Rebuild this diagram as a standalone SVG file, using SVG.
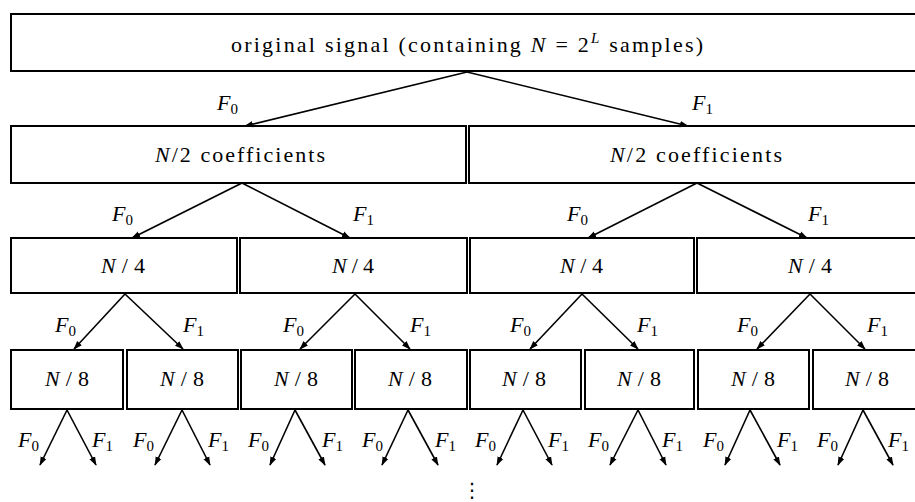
<svg xmlns="http://www.w3.org/2000/svg" width="915" height="502" viewBox="0 0 915 502">
<defs>
<marker id="ah" viewBox="0 0 10 10" refX="9" refY="5" markerWidth="9" markerHeight="9" markerUnits="userSpaceOnUse" orient="auto">
<path d="M0,1.5 L10,5 L0,8.5 z" fill="#000"/>
</marker>
</defs>
<rect width="915" height="502" fill="#fff"/>

<g font-size="22" fill="#000">
<g id="n0"><rect fill="#fff" stroke="#000" stroke-width="2" x="11" y="14" width="912" height="57"/>
<text font-family="Liberation Serif" x="231" y="52" textLength="472" lengthAdjust="spacing">original signal (containing <tspan font-style="italic">N</tspan> = 2<tspan font-style="italic" font-size="15" dy="-9">L</tspan><tspan dy="9"> samples)</tspan></text></g>

<g id="n1"><rect fill="#fff" stroke="#000" stroke-width="2" x="11" y="126" width="455" height="57"/><text font-family="Liberation Serif" x="155" y="162" textLength="170" lengthAdjust="spacing"><tspan font-style="italic">N</tspan>/2 coefficients</text></g>
<g id="n2"><rect fill="#fff" stroke="#000" stroke-width="2" x="469" y="126" width="454" height="57"/><text font-family="Liberation Serif" x="610" y="162" textLength="172" lengthAdjust="spacing"><tspan font-style="italic">N</tspan>/2 coefficients</text></g>

<g id="n3"><rect fill="#fff" stroke="#000" stroke-width="2" x="11" y="238" width="226" height="55"/><text font-family="Liberation Serif" x="101" y="273" textLength="44" lengthAdjust="spacing"><tspan font-style="italic">N</tspan>/4</text></g>
<g id="n4"><rect fill="#fff" stroke="#000" stroke-width="2" x="240" y="238" width="227" height="55"/><text font-family="Liberation Serif" x="332" y="273" textLength="42" lengthAdjust="spacing"><tspan font-style="italic">N</tspan>/4</text></g>
<g id="n5"><rect fill="#fff" stroke="#000" stroke-width="2" x="470" y="238" width="224" height="55"/><text font-family="Liberation Serif" x="560" y="273" textLength="43" lengthAdjust="spacing"><tspan font-style="italic">N</tspan>/4</text></g>
<g id="n6"><rect fill="#fff" stroke="#000" stroke-width="2" x="697" y="238" width="226" height="55"/><text font-family="Liberation Serif" x="788" y="273" textLength="44" lengthAdjust="spacing"><tspan font-style="italic">N</tspan>/4</text></g>

<g id="n7"><rect fill="#fff" stroke="#000" stroke-width="2" x="11" y="350" width="112" height="59"/><text font-family="Liberation Serif" x="45" y="386" textLength="44" lengthAdjust="spacing"><tspan font-style="italic">N</tspan>/8</text></g>
<g id="n8"><rect fill="#fff" stroke="#000" stroke-width="2" x="127" y="350" width="111" height="59"/><text font-family="Liberation Serif" x="160" y="386" textLength="44" lengthAdjust="spacing"><tspan font-style="italic">N</tspan>/8</text></g>
<g id="n9"><rect fill="#fff" stroke="#000" stroke-width="2" x="241" y="350" width="111" height="59"/><text font-family="Liberation Serif" x="274" y="386" textLength="44" lengthAdjust="spacing"><tspan font-style="italic">N</tspan>/8</text></g>
<g id="n10"><rect fill="#fff" stroke="#000" stroke-width="2" x="355" y="350" width="112" height="59"/><text font-family="Liberation Serif" x="388" y="386" textLength="44" lengthAdjust="spacing"><tspan font-style="italic">N</tspan>/8</text></g>
<g id="n11"><rect fill="#fff" stroke="#000" stroke-width="2" x="470" y="350" width="111" height="59"/><text font-family="Liberation Serif" x="502" y="386" textLength="44" lengthAdjust="spacing"><tspan font-style="italic">N</tspan>/8</text></g>
<g id="n12"><rect fill="#fff" stroke="#000" stroke-width="2" x="585" y="350" width="109" height="59"/><text font-family="Liberation Serif" x="617" y="386" textLength="44" lengthAdjust="spacing"><tspan font-style="italic">N</tspan>/8</text></g>
<g id="n13"><rect fill="#fff" stroke="#000" stroke-width="2" x="698" y="350" width="111" height="59"/><text font-family="Liberation Serif" x="731" y="386" textLength="44" lengthAdjust="spacing"><tspan font-style="italic">N</tspan>/8</text></g>
<g id="n14"><rect fill="#fff" stroke="#000" stroke-width="2" x="813" y="350" width="110" height="59"/><text font-family="Liberation Serif" x="845" y="386" textLength="44" lengthAdjust="spacing"><tspan font-style="italic">N</tspan>/8</text></g>
</g>

<g id="connectors" stroke="#000" stroke-width="1.6" fill="none" marker-end="url(#ah)">
<path d="M467,72 L245,126"/>
<path d="M467,72 L688,126"/>
<path d="M242,183 L132,238"/>
<path d="M242,183 L350,238"/>
<path d="M697,183 L588,238"/>
<path d="M697,183 L807,238"/>
<path d="M125,294 L74,349"/>
<path d="M125,294 L183,349"/>
<path d="M355,294 L300,349"/>
<path d="M355,294 L410,349"/>
<path d="M582,294 L530,349"/>
<path d="M582,294 L638,349"/>
<path d="M810,294 L757,349"/>
<path d="M810,294 L865,349"/>
<path d="M67,410 L40,465"/>
<path d="M67,410 L96,465"/>
<path d="M182,410 L155,465"/>
<path d="M182,410 L210,465"/>
<path d="M295,410 L270,465"/>
<path d="M295,410 L325,465"/>
<path d="M408,410 L382,465"/>
<path d="M408,410 L438,465"/>
<path d="M523,410 L497,465"/>
<path d="M523,410 L552,465"/>
<path d="M638,410 L610,465"/>
<path d="M638,410 L666,465"/>
<path d="M750,410 L725,465"/>
<path d="M750,410 L780,465"/>
<path d="M863,410 L838,465"/>
<path d="M863,410 L893,465"/>
</g>

<g id="labels" font-size="22" fill="#000">
<text font-family="Liberation Serif" x="217" y="110"><tspan font-style="italic">F</tspan><tspan font-size="15" dy="4">0</tspan></text>
<text font-family="Liberation Serif" x="692" y="110"><tspan font-style="italic">F</tspan><tspan font-size="15" dy="4">1</tspan></text>
<text font-family="Liberation Serif" x="112" y="221"><tspan font-style="italic">F</tspan><tspan font-size="15" dy="4">0</tspan></text>
<text font-family="Liberation Serif" x="353" y="221"><tspan font-style="italic">F</tspan><tspan font-size="15" dy="4">1</tspan></text>
<text font-family="Liberation Serif" x="567" y="221"><tspan font-style="italic">F</tspan><tspan font-size="15" dy="4">0</tspan></text>
<text font-family="Liberation Serif" x="808" y="221"><tspan font-style="italic">F</tspan><tspan font-size="15" dy="4">1</tspan></text>
<text font-family="Liberation Serif" x="55" y="332"><tspan font-style="italic">F</tspan><tspan font-size="15" dy="4">0</tspan></text>
<text font-family="Liberation Serif" x="183" y="332"><tspan font-style="italic">F</tspan><tspan font-size="15" dy="4">1</tspan></text>
<text font-family="Liberation Serif" x="283" y="332"><tspan font-style="italic">F</tspan><tspan font-size="15" dy="4">0</tspan></text>
<text font-family="Liberation Serif" x="410" y="332"><tspan font-style="italic">F</tspan><tspan font-size="15" dy="4">1</tspan></text>
<text font-family="Liberation Serif" x="510" y="332"><tspan font-style="italic">F</tspan><tspan font-size="15" dy="4">0</tspan></text>
<text font-family="Liberation Serif" x="637" y="332"><tspan font-style="italic">F</tspan><tspan font-size="15" dy="4">1</tspan></text>
<text font-family="Liberation Serif" x="737" y="332"><tspan font-style="italic">F</tspan><tspan font-size="15" dy="4">0</tspan></text>
<text font-family="Liberation Serif" x="867" y="332"><tspan font-style="italic">F</tspan><tspan font-size="15" dy="4">1</tspan></text>
<text font-family="Liberation Serif" x="18" y="447"><tspan font-style="italic">F</tspan><tspan font-size="15" dy="4">0</tspan></text>
<text font-family="Liberation Serif" x="92" y="447"><tspan font-style="italic">F</tspan><tspan font-size="15" dy="4">1</tspan></text>
<text font-family="Liberation Serif" x="133" y="447"><tspan font-style="italic">F</tspan><tspan font-size="15" dy="4">0</tspan></text>
<text font-family="Liberation Serif" x="208" y="447"><tspan font-style="italic">F</tspan><tspan font-size="15" dy="4">1</tspan></text>
<text font-family="Liberation Serif" x="248" y="447"><tspan font-style="italic">F</tspan><tspan font-size="15" dy="4">0</tspan></text>
<text font-family="Liberation Serif" x="322" y="447"><tspan font-style="italic">F</tspan><tspan font-size="15" dy="4">1</tspan></text>
<text font-family="Liberation Serif" x="362" y="447"><tspan font-style="italic">F</tspan><tspan font-size="15" dy="4">0</tspan></text>
<text font-family="Liberation Serif" x="435" y="447"><tspan font-style="italic">F</tspan><tspan font-size="15" dy="4">1</tspan></text>
<text font-family="Liberation Serif" x="475" y="447"><tspan font-style="italic">F</tspan><tspan font-size="15" dy="4">0</tspan></text>
<text font-family="Liberation Serif" x="548" y="447"><tspan font-style="italic">F</tspan><tspan font-size="15" dy="4">1</tspan></text>
<text font-family="Liberation Serif" x="588" y="447"><tspan font-style="italic">F</tspan><tspan font-size="15" dy="4">0</tspan></text>
<text font-family="Liberation Serif" x="662" y="447"><tspan font-style="italic">F</tspan><tspan font-size="15" dy="4">1</tspan></text>
<text font-family="Liberation Serif" x="703" y="447"><tspan font-style="italic">F</tspan><tspan font-size="15" dy="4">0</tspan></text>
<text font-family="Liberation Serif" x="777" y="447"><tspan font-style="italic">F</tspan><tspan font-size="15" dy="4">1</tspan></text>
<text font-family="Liberation Serif" x="817" y="447"><tspan font-style="italic">F</tspan><tspan font-size="15" dy="4">0</tspan></text>
<text font-family="Liberation Serif" x="888" y="447"><tspan font-style="italic">F</tspan><tspan font-size="15" dy="4">1</tspan></text>
</g>
<text font-family="DejaVu Sans" font-size="20" x="472" y="497" text-anchor="middle">⋮</text>
</svg>
